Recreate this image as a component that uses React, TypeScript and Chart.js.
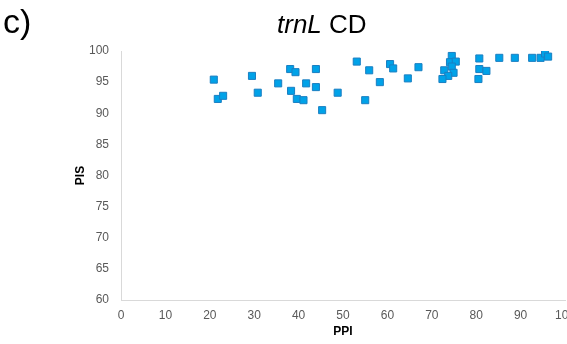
import React, { useEffect, useRef } from "react";
import { Chart, registerables } from "chart.js";

Chart.register(...registerables);

const ppi = [
  20.9, 29.5, 35.4, 21.8, 23.0, 30.8, 38.1, 39.3, 43.9, 41.7, 38.3, 43.9, 39.6, 41.1,
  48.8, 45.3, 53.1, 55.9, 58.3, 55.0, 60.6, 61.3, 64.6, 67.0, 74.5, 74.1, 75.4, 74.5,
  72.8, 74.9, 73.7, 72.4, 80.7, 80.7, 82.3, 80.5, 85.2, 88.7, 92.6, 94.5, 95.5, 96.2,
];
const pis = [
  95.4, 96.0, 94.8, 92.3, 92.8, 93.3, 97.1, 96.6, 97.1, 94.8, 93.6, 94.2, 92.3, 92.1,
  93.3, 90.5, 98.3, 96.9, 95.0, 92.1, 97.9, 97.2, 95.6, 97.4, 99.2, 98.2, 98.3, 97.5,
  96.9, 96.5, 96.0, 95.5, 98.8, 97.1, 96.8, 95.5, 98.9, 98.9, 98.9, 98.9, 99.6, 99.1,
];
const panelLabel = "c)";
const titleItalic = "trnL";
const titleRest = " CD";
const xTitle = "PPI";
const yTitle = "PIS";

const FONT = "'Liberation Sans', Arial, sans-serif";

const titlePlugin = {
  id: "customTitle",
  afterDraw(chart: any) {
    const ctx = chart.ctx;
    ctx.save();
    ctx.fillStyle = "#000";
    ctx.textBaseline = "alphabetic";
    ctx.textAlign = "left";
    ctx.font = `34px ${FONT}`;
    ctx.fillText(panelLabel, 3, 33);
    ctx.font = `italic 26px ${FONT}`;
    const x0 = 277;
    ctx.fillText(titleItalic, x0, 33);
    const w = ctx.measureText(titleItalic).width;
    ctx.font = `26px ${FONT}`;
    ctx.fillText(titleRest, x0 + w, 33);
    ctx.restore();
  },
};

export default function App() {
  const ref = useRef<HTMLCanvasElement>(null);
  useEffect(() => {
    if (!ref.current) return;
    const chart = new Chart(ref.current, {
      type: "scatter",
      data: {
        datasets: [
          {
            data: ppi.map((x, i) => ({ x, y: pis[i] })),
            pointStyle: "rect",
            pointRadius: 5,
            pointBorderWidth: 1,
            backgroundColor: "#00a2e8",
            borderColor: "#1a7fc2",
          },
        ],
      },
      options: {
        animation: false,
        responsive: false,
        maintainAspectRatio: false,
        layout: { autoPadding: false, padding: { top: 51, right: 2, bottom: 0, left: 0 } },
        plugins: { legend: { display: false }, tooltip: { enabled: false } },
        scales: {
          x: {
            type: "linear",
            min: 0,
            max: 100,
            ticks: { stepSize: 10, padding: 8, color: "#595959", font: { family: FONT, size: 12 } },
            grid: { display: false, drawTicks: false },
            border: { color: "#d9d9d9", width: 1 },
            title: {
              display: true,
              text: xTitle,
              color: "#000",
              font: { family: FONT, size: 12, weight: "bold" },
              padding: { top: 0, bottom: 5 },
            },
            afterFit(scale: any) {
              scale.height = 44;
              scale.paddingLeft = 0;
              scale.paddingRight = 0;
            },
          },
          y: {
            type: "linear",
            min: 60,
            max: 100,
            ticks: { stepSize: 5, padding: 12, color: "#595959", font: { family: FONT, size: 12 } },
            grid: { display: false, drawTicks: false },
            border: { color: "#d9d9d9", width: 1 },
            title: {
              display: true,
              text: yTitle,
              color: "#000",
              font: { family: FONT, size: 12, weight: "bold" },
              padding: { top: 73, bottom: 0 },
            },
            afterFit(scale: any) {
              scale.width = 121;
              scale.paddingTop = 0;
              scale.paddingBottom = 0;
            },
          },
        },
      },
      plugins: [titlePlugin],
    });
    return () => chart.destroy();
  }, []);
  return (
    <div style={{ position: "absolute", left: 0, top: 0, width: 567, height: 344, background: "#fff" }}>
      <canvas ref={ref} width={567} height={344} style={{ display: "block" }} />
    </div>
  );
}
